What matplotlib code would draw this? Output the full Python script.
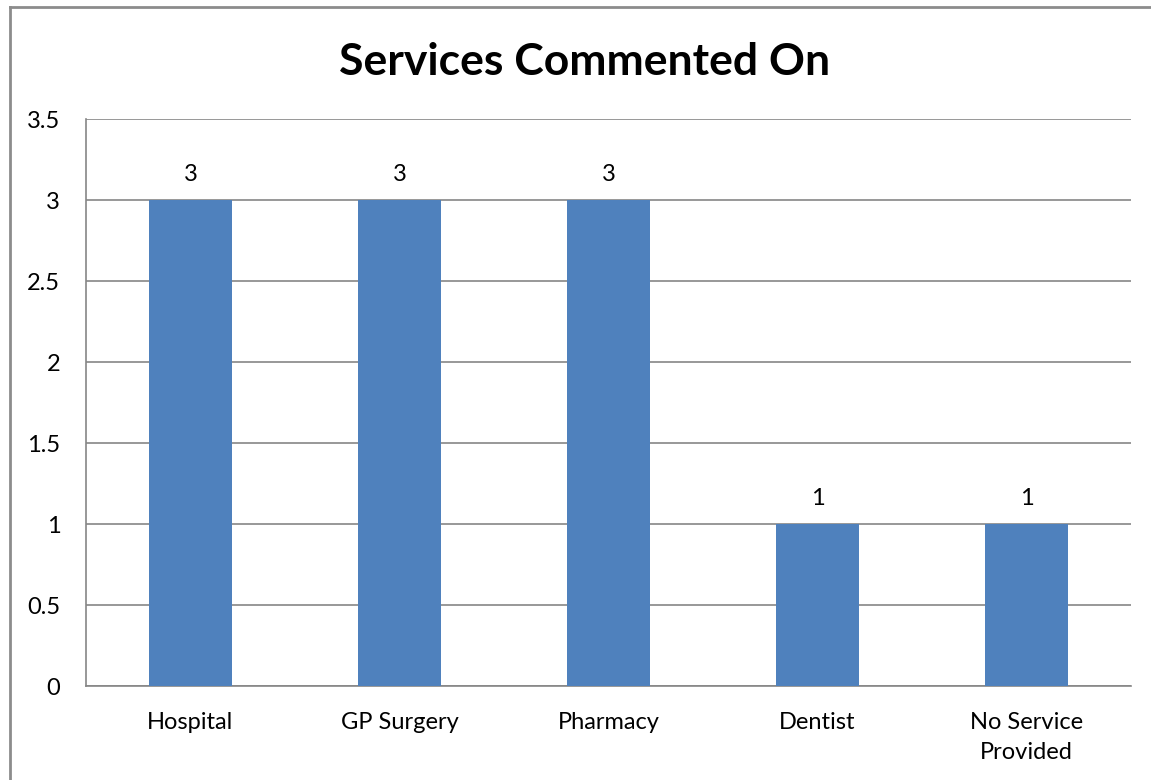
import matplotlib.pyplot as plt
from matplotlib.lines import Line2D

services = ["Hospital", "GP Surgery", "Pharmacy", "Dentist", "No Service\nProvided"]
counts = [3, 3, 3, 1, 1]
y_ticks = [0, 0.5, 1, 1.5, 2, 2.5, 3, 3.5]
y_labels = ["0", "0.5", "1", "1.5", "2", "2.5", "3", "3.5"]

plt.rcParams['font.family'] = ['Lato', 'DejaVu Sans']

fig = plt.figure(figsize=(11.51, 7.80), dpi=100)
ax = fig.add_axes([0.0747, 0.1205, 0.9079, 0.7269])

x = range(len(services))
bars = ax.bar(x, counts, width=0.4, color='#4F81BD', zorder=3)
for b, v in zip(bars, counts):
    ax.text(b.get_x() + b.get_width() / 2, v + 0.09, str(v),
            ha='center', va='bottom', fontsize=17)

ax.set_xlim(-0.5, len(services) - 0.5)
ax.set_ylim(0, 3.5)
ax.set_yticks(y_ticks)
ax.set_yticklabels(y_labels, fontsize=17)
ax.set_xticks(list(x))
ax.set_xticklabels(services, fontsize=17, linespacing=1.55, va='top')
ax.tick_params(length=0, axis='y', pad=18.5)
ax.tick_params(length=0, axis='x', pad=18.5)

ax.grid(axis='y', color='#868686', linewidth=1.2, zorder=0)
for side in ['top', 'right']:
    ax.spines[side].set_visible(False)
ax.spines['left'].set_color('#868686')
ax.spines['bottom'].set_color('#868686')
ax.spines['left'].set_linewidth(1.2)
ax.spines['bottom'].set_linewidth(1.2)

fig.text(0.508, 0.92, "Services Commented On", ha='center', va='center',
         fontsize=32, fontweight='bold')

# outer frame of the chart area
fig.add_artist(Line2D([0.0087, 0.0087], [0, 0.991], transform=fig.transFigure,
                      color='#8c8c8c', linewidth=2))
fig.add_artist(Line2D([0.0087, 1.0], [0.991, 0.991], transform=fig.transFigure,
                      color='#8c8c8c', linewidth=2))

fig.savefig("out.png", dpi=100)
